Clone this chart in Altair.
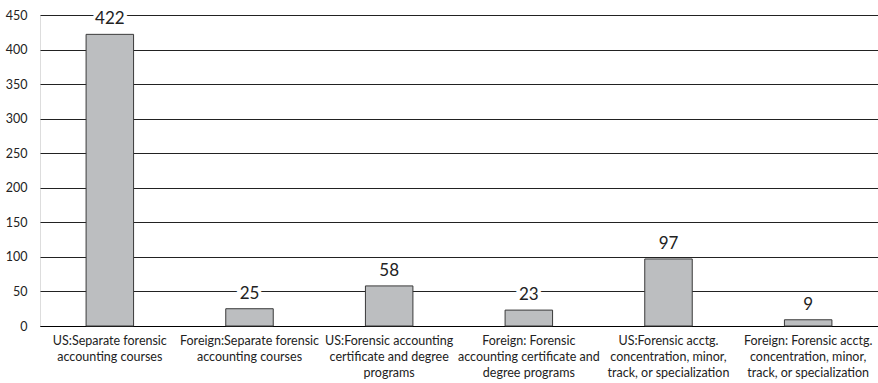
import altair as alt
import pandas as pd

categories = [
    "US:Separate forensic|accounting courses",
    "Foreign:Separate forensic|accounting courses",
    "US:Forensic accounting|certificate and degree|programs",
    "Foreign: Forensic|accounting certificate and|degree programs",
    "US:Forensic acctg.|concentration, minor,|track, or specialization",
    "Foreign: Forensic acctg.|concentration, minor,|track, or specialization",
]
values = [422, 25, 58, 23, 97, 9]

df = pd.DataFrame({"cat": categories, "val": values})

FONT = "Lato"

x = alt.X("cat:N", sort=categories, title=None,
          scale=alt.Scale(paddingInner=0.66, paddingOuter=0.33),
          axis=alt.Axis(labelAngle=0, labelExpr="split(datum.label, '|')",
                        ticks=False, domainColor="#000000", domainWidth=1,
                        labelFont=FONT, labelFontSize=12.5, labelColor="#222222",
                        labelPadding=8, labelLineHeight=16, labelLimit=200))
y = alt.Y("val:Q", title=None,
          scale=alt.Scale(domain=[0, 450], nice=False),
          axis=alt.Axis(values=list(range(0, 451, 50)), grid=True,
                        gridColor="#222222", gridWidth=1, domain=False,
                        ticks=False, labelPadding=13, labelFont=FONT,
                        labelFontSize=12.5, labelColor="#222222"))

bars = alt.Chart(df).mark_bar(color="#bcbec0", stroke="#3a3a3a", strokeWidth=1).encode(x=x, y=y)

halo = alt.Chart(df).mark_text(dy=-15, font=FONT, fontSize=17, stroke="white",
                               strokeWidth=7, color="white").encode(x=x, y=y, text="val:Q")
labels = alt.Chart(df).mark_text(dy=-15, font=FONT, fontSize=17, color="#222222").encode(
    x=x, y=y, text="val:Q")

chart = (bars + halo + labels).properties(
    width=838, height=311,
    autosize=alt.AutoSizeParams(type="none"),
    padding={"left": 40, "top": 15, "right": 0, "bottom": 57},
).configure_view(stroke=None).configure(background="white")

chart.save("out.html", embed_options={"renderer": "svg", "actions": False})
